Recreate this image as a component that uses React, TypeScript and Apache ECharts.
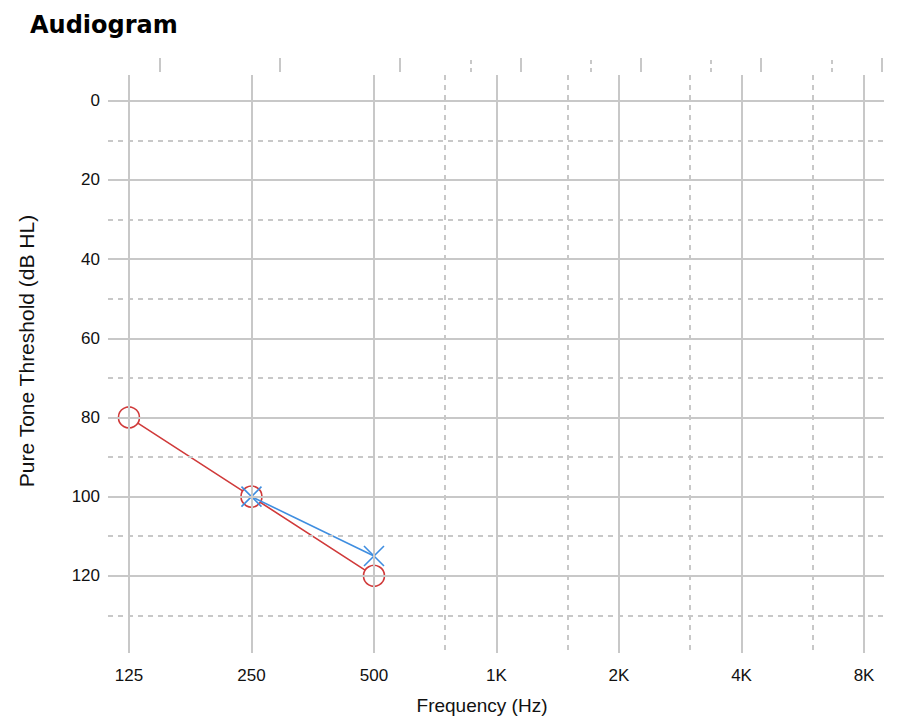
import React, { useEffect, useRef } from "react";
import * as echarts from "echarts";

const frequencyHz = [125, 250, 500, 1000, 2000, 4000, 8000];
const frequencyLabels = ["125", "250", "500", "1K", "2K", "4K", "8K"];
const interOctaveHz = [750, 1500, 3000, 6000];
const majorDb = [0, 20, 40, 60, 80, 100, 120];
const minorDb = [10, 30, 50, 70, 90, 110, 130];
const rightEarHz = [125, 250, 500];
const rightEarDb = [80, 100, 120];
const leftEarHz = [250, 500];
const leftEarDb = [100, 115];

const oct = (f: number) => Math.log2(f / frequencyHz[0]);

const X_MIN = -0.171;
const X_MAX = 6.163;
const Y_MIN = -6.5;
const Y_MAX = 139.5;

const GRID_COLOR = "#c8c8c8";
const FONT = "Liberation Sans";

export default function App() {
  const ref = useRef<HTMLDivElement>(null);
  useEffect(() => {
    if (!ref.current) return;
    const chart = echarts.init(ref.current, undefined, { renderer: "svg" });
    const majorX = frequencyHz.map(oct);
    const minorX = interOctaveHz.map(oct);
    const labelMap: Record<string, string> = {};
    majorX.forEach((v, i) => (labelMap[v.toFixed(3)] = frequencyLabels[i]));

    const gridLines = [
      ...majorX.map((v) => ({ xAxis: v, lineStyle: { type: "solid" as const } })),
      ...minorX.map((v) => ({ xAxis: v, lineStyle: { type: [5, 5] as any } })),
      ...majorDb.map((v) => ({ yAxis: v, lineStyle: { type: "solid" as const } })),
      ...minorDb.map((v) => ({ yAxis: v, lineStyle: { type: [5, 5] as any } })),
    ];

    const topTickAxis = (gridIndex: number, values: number[], dashed: boolean) => ({
      type: "value",
      gridIndex,
      position: "bottom",
      min: X_MIN,
      max: X_MAX,
      axisLine: { show: false },
      axisLabel: { show: false },
      splitLine: { show: false },
      axisTick: {
        show: true,
        inside: true,
        customValues: values,
        length: 14,
        lineStyle: { color: GRID_COLOR, width: 2, type: dashed ? [4, 4] : "solid" },
      },
    });

    chart.setOption({
      animation: false,
      title: {
        text: "Audiogram",
        left: 25,
        top: 8,
        textStyle: { fontFamily: "DejaVu Sans", fontWeight: "bold", fontSize: 24, color: "#000" },
      },
      grid: [
        { left: 108, right: 17, top: 75, bottom: 66 },
        { left: 139, width: 776, top: 52, height: 20 },
        { left: 139, width: 776, top: 52, height: 20 },
      ],
      xAxis: [
        {
          type: "value",
          gridIndex: 0,
          min: X_MIN,
          max: X_MAX,
          axisLine: { show: false },
          axisTick: { show: false },
          splitLine: { show: false },
          axisLabel: {
            customValues: majorX,
            formatter: (v: number) => labelMap[v.toFixed(3)] ?? "",
            fontFamily: FONT,
            fontSize: 17,
            color: "#111",
            margin: 14,
          },
          name: "Frequency (Hz)",
          nameLocation: "middle",
          nameGap: 43,
          nameTextStyle: { fontFamily: FONT, fontSize: 19, color: "#111", padding: [0, 28, 0, 0] },
        },
        topTickAxis(1, majorX, false),
        topTickAxis(2, minorX, true),
      ],
      yAxis: [
        {
          type: "value",
          gridIndex: 0,
          inverse: true,
          min: Y_MIN,
          max: Y_MAX,
          axisLine: { show: false },
          axisTick: { show: false },
          splitLine: { show: false },
          axisLabel: {
            customValues: majorDb,
            fontFamily: FONT,
            fontSize: 17,
            color: "#111",
            margin: 8,
          },
          name: "Pure Tone Threshold (dB HL)",
          nameLocation: "middle",
          nameGap: 71,
          nameTextStyle: { fontFamily: FONT, fontSize: 21, color: "#111", padding: [0, 0, 0, 26] },
        },
        { type: "value", gridIndex: 1, show: false },
        { type: "value", gridIndex: 2, show: false },
      ],
      series: [
        {
          type: "line",
          xAxisIndex: 0,
          yAxisIndex: 0,
          data: [],
          z: 1,
          silent: true,
          markLine: {
            silent: true,
            symbol: ["none", "none"],
            label: { show: false },
            lineStyle: { color: GRID_COLOR, width: 2 },
            data: gridLines,
          },
        },
        {
          type: "line",
          name: "Right",
          xAxisIndex: 0,
          yAxisIndex: 0,
          z: 3,
          data: rightEarHz.map((f, i) => [oct(f), rightEarDb[i]]),
          lineStyle: { color: "#d03a3a", width: 1.6 },
          symbol: "circle",
          symbolSize: 21,
          itemStyle: { color: "#ffffff", borderColor: "#d03a3a", borderWidth: 1.6 },
        },
        {
          type: "line",
          name: "Left",
          xAxisIndex: 0,
          yAxisIndex: 0,
          z: 4,
          data: leftEarHz.map((f, i) => [oct(f), leftEarDb[i]]),
          lineStyle: { color: "#3f8ee0", width: 1.6 },
          symbol: "path://M0,0L10,10M10,0L0,10",
          symbolSize: 20,
          itemStyle: { color: "none", borderColor: "#3f8ee0", borderWidth: 1.6 },
        },
      ],
    });
    return () => chart.dispose();
  }, []);
  return <div ref={ref} style={{ width: 901, height: 720, position: "absolute", left: 0, top: 0 }} />;
}
